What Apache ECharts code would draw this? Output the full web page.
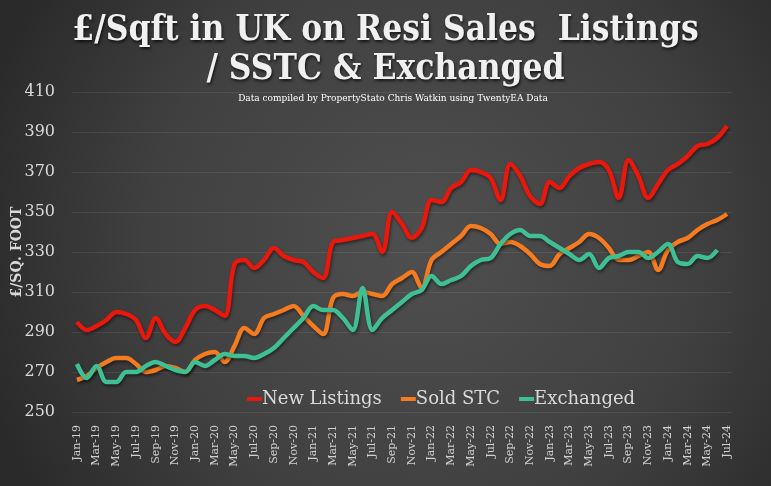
<!DOCTYPE html>
<html>
<head>
<meta charset="utf-8">
<script src="https://cdn.jsdelivr.net/npm/echarts@6/dist/echarts.min.js"></script>
<style>
html,body{margin:0;padding:0;background:#2b2b2b;}
#c{width:771px;height:486px;}
</style>
</head>
<body>
<div id="c"></div>
<script>
var months = ['Jan','Feb','Mar','Apr','May','Jun','Jul','Aug','Sep','Oct','Nov','Dec'];
var categories = [];
for (var y = 19; y <= 24; y++) {
  for (var m = 0; m < 12; m++) {
    if (y === 24 && m > 6) break;
    categories.push(months[m] + '-' + y);
  }
}
var yTicks = [250, 270, 290, 310, 330, 350, 370, 390, 410];

var newListings = [295,291,293,296,300,299,296,287,297,289,285,292,
  301,303,301,298,324,326,322,326,332,328,326,325,
  320,317,335,336,337,338,339,330,350,344,337,342,
  356,355,362,365,371,370,367,356,374,368,358,354,
  365,362,368,372,374,375,371,357,376,368,357,364,
  371,374,378,383,384,387,393];
var soldSTC = [266,268,272,275,277,277,274,270,271,273,272,270,
  276,279,280,275,283,292,289,297,299,301,303,298,
  293,289,307,309,308,310,309,308,314,317,320,312,
  326,330,334,338,343,342,339,334,335,333,329,324,
  323,329,332,335,339,337,332,326,326,328,330,321,
  331,335,337,341,344,346,349];
var exchanged = [274,267,273,265,265,270,270,273,275,273,271,270,
  275,273,276,279,278,278,277,279,282,287,292,297,
  303,301,301,297,291,312,291,297,301,305,309,311,
  318,314,316,318,323,326,327,334,339,341,338,338,
  335,332,329,326,329,322,327,328,330,330,327,330,
  334,325,324,328,327,331,null];

var seriesNames = ['New Listings', 'Sold STC', 'Exchanged'];
var seriesColors = ['#e8180c', '#f47b20', '#3fbf94'];
var seriesData = [newListings, soldSTC, exchanged];

var FONT = "'DejaVu Serif', serif";
var TITLE_FONT = "'DejaVu Serif Condensed', 'DejaVu Serif', serif";

var chart = echarts.init(document.getElementById('c'));
chart.setOption({
  backgroundColor: {
    type: 'radial', x: 0.55, y: 0.5, r: 0.95,
    colorStops: [
      {offset: 0, color: '#4f4f4f'},
      {offset: 0.6, color: '#404040'},
      {offset: 1, color: '#2a2a2a'}
    ]
  },
  animation: false,
  title: [{
    text: '£/Sqft in UK on Resi Sales  Listings\n/ SSTC & Exchanged',
    left: 'center', top: 6,
    textStyle: {
      fontFamily: TITLE_FONT, fontWeight: 'bold', fontSize: 35, lineHeight: 39,
      color: '#f0f0f0',
      textShadowColor: 'rgba(0,0,0,0.7)', textShadowBlur: 3, textShadowOffsetX: 1, textShadowOffsetY: 2
    }
  }, {
    text: 'Data compiled by PropertyStato Chris Watkin using TwentyEA Data',
    left: 388, top: 89, textAlign: 'center',
    textStyle: {fontFamily: FONT, fontWeight: 'normal', fontSize: 9, color: '#ffffff'}
  }],
  legend: {
    data: seriesNames,
    left: 247, top: 390, padding: 0,
    icon: 'rect', itemWidth: 15, itemHeight: 4, itemGap: 19,
    textStyle: {fontFamily: FONT, fontSize: 18, color: '#d9d9d9', padding: [0, 0, 0, -5]}
  },
  grid: {left: 72, right: 39, top: 92, bottom: 74, outerBoundsMode: 'none', containLabel: false},
  xAxis: {
    type: 'category',
    data: categories,
    boundaryGap: true,
    axisLine: {show: false},
    axisTick: {show: false},
    axisLabel: {
      interval: 1, rotate: 90, margin: 13,
      fontFamily: FONT, fontSize: 11, color: '#d0d0d0'
    }
  },
  yAxis: {
    type: 'value',
    min: yTicks[0], max: yTicks[yTicks.length - 1], interval: 20,
    name: '£/SQ. FOOT',
    nameLocation: 'middle', nameGap: 48, nameRotate: 90, nameMoveOverlap: false,
    nameTextStyle: {fontFamily: FONT, fontWeight: 'bold', fontSize: 14, color: '#d9d9d9'},
    axisLine: {show: false},
    axisTick: {show: false},
    axisLabel: {margin: 17, fontFamily: FONT, fontSize: 16, color: '#d9d9d9'},
    splitLine: {lineStyle: {color: 'rgba(255,255,255,0.08)', width: 1}}
  },
  series: seriesNames.map(function (n, i) {
    return {
      name: n, type: 'line', data: seriesData[i],
      smooth: 0.35, showSymbol: false, symbol: 'none',
      itemStyle: {color: seriesColors[i]},
      lineStyle: {
        color: seriesColors[i], width: 4.5,
        shadowColor: 'rgba(0,0,0,0.45)', shadowBlur: 3, shadowOffsetX: 1, shadowOffsetY: 2
      }
    };
  })
});
</script>
</body>
</html>
